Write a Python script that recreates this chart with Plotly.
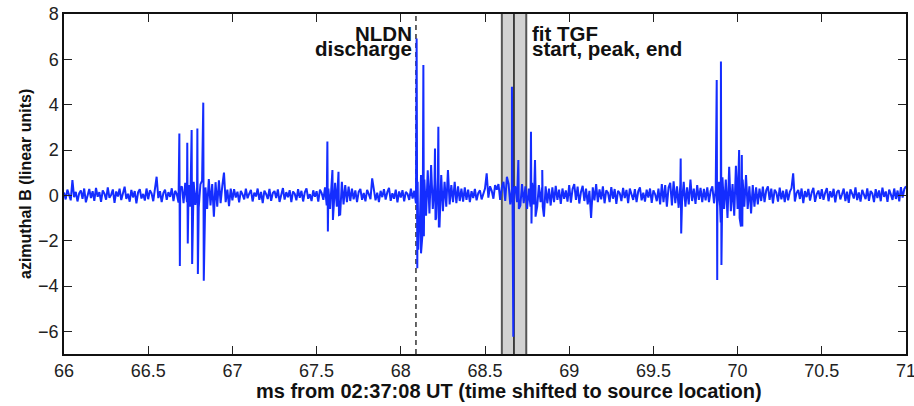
import numpy as np
import plotly.graph_objects as go

# Background record, 0.01 ms samples, one list per half millisecond
base_66_0 = [0.12, -0.18, 0.25, 0.05, -0.22, 0.67, -0.08, 0.15, -0.27, 0.09,
             0.21, -0.15, 0.3, -0.31, 0.04, 0.28, -0.12, 0.18, -0.24, 0.33,
             -0.06, 0.14, -0.29, 0.22, 0.08, -0.19, 0.35, -0.11, 0.02, 0.26,
             -0.33, 0.17, -0.05, 0.29, -0.21, 0.11, 0.38, -0.16, 0.07, -0.28,
             0.24, -0.09, 0.19, -0.35, 0.13, 0.27, -0.14, 0.06, -0.23, 0.3]
base_66_5 = [-0.17, 0.22, 0.09, -0.26, 0.33, 0.82, -0.12, 0.18, -0.3, 0.1,
             0.25, -0.2, 0.14, -0.07, 0.31, -0.25, 0.2, 0.05, -0.32, 0.28,
             0.4, -0.35, 0.55, -0.3, 0.45, -0.5, 0.38, 0.6, -0.42, 0.3,
             -0.55, 0.48, 0.65, -0.4, 0.35, -0.6, 0.72, -0.45, 0.5, -0.94,
             0.58, -0.5, 0.66, -0.35, 0.42, 1.0, -0.3, 0.25, -0.48, 0.3]
base_67_0 = [-0.22, 0.27, -0.1, 0.16, -0.31, 0.2, 0.04, -0.18, 0.29, -0.13,
             0.08, 0.24, -0.27, 0.12, -0.05, 0.3, -0.2, 0.15, -0.34, 0.21,
             0.06, -0.16, 0.28, -0.24, 0.1, 0.19, -0.12, 0.26, -0.29, 0.03,
             0.32, -0.19, 0.14, -0.08, 0.23, -0.3, 0.17, 0.07, -0.22, 0.27,
             -0.11, 0.2, -0.27, 0.13, 0.31, -0.15, 0.05, -0.25, 0.22, -0.06]
base_67_5 = [0.18, -0.28, 0.25, 0.1, -0.2, 0.35, -0.45, 0.3, -0.6, 0.5,
             -0.7, 0.55, -0.5, 0.8, -0.85, 0.6, -0.4, 0.45, -0.3, 0.38,
             -0.25, 0.3, -0.18, 0.22, -0.3, 0.15, 0.28, -0.2, 0.1, -0.26,
             0.24, 0.05, -0.17, 0.75, 0.3, -0.22, 0.12, -0.3, 0.2, -0.08,
             0.27, -0.19, 0.14, 0.33, -0.24, 0.09, -0.15, 0.25, -0.31, 0.17]
base_68_0 = [-0.1, 0.23, -0.26, 0.15, 0.06, -0.2, 0.29, -0.14, 0.2, -0.35,
             0.6, -1.2, 0.9, -1.6, 0.7, -0.9, 1.1, -0.8, 1.34, -0.6,
             0.5, -1.0, 0.8, -1.38, 0.9, -0.7, 0.6, -0.5, 1.12, -0.4,
             0.45, -0.3, 0.6, -0.35, 0.4, -0.25, 0.3, -0.28, 0.35, -0.2,
             0.25, -0.3, 0.18, -0.12, 0.28, -0.22, 0.1, 0.22, -0.18, 0.12]
base_68_5 = [0.3, 0.97, -0.1, 0.4, 0.2, -0.15, 0.45, 0.25, 0.5, -0.2,
             0.35, 0.6, -0.25, 0.82, 0.5, -0.4, 0.3, -0.5, 0.4, -0.3,
             0.6, -0.45, 0.5, -0.35, 0.4, -0.6, 0.3, -0.5, 0.55, -0.4,
             0.35, -0.5, 0.45, -0.3, 0.4, -0.94, 0.4, -0.35, 0.3, -0.45,
             0.35, -0.3, 0.42, -0.2, 0.25, -0.38, 0.3, -0.15, 0.22, -0.28]
base_69_0 = [0.45, -0.32, 0.28, 0.5, -0.2, 0.38, -0.36, 0.15, 0.42, -0.25,
             0.3, -0.4, 0.2, -1.0, 0.35, -0.22, 0.5, -0.3, 0.26, -0.18,
             0.4, -0.35, 0.22, 0.12, -0.3, 0.36, -0.15, 0.28, -0.38, 0.2,
             0.1, -0.25, 0.33, -0.12, 0.24, -0.34, 0.3, 0.05, -0.2, 0.27,
             -0.3, 0.18, 0.35, -0.22, 0.12, -0.28, 0.25, -0.1, 0.3, -0.33]
base_69_5 = [0.22, 0.05, -0.26, 0.3, -0.4, 0.5, -0.3, 0.45, -0.5, 0.35,
             0.55, -0.45, 0.62, -0.35, 0.4, -0.55, 0.48, -0.3, 0.6, -0.5,
             0.35, -0.4, 0.7, -0.25, 0.3, -0.38, 0.45, -0.2, 0.33, -0.3,
             0.28, -0.22, 0.35, -0.3, 0.2, 0.4, -0.35, 0.25, -0.5, 0.6,
             -1.2, 0.8, -0.6, 0.7, -1.0, 1.26, -0.7, 0.5, -0.9, 1.3]
base_70_0 = [-0.6, 0.8, -1.38, 0.7, -0.5, 0.9, -0.6, 0.4, -0.8, 0.45,
             -0.5, 0.35, -0.4, 0.3, -0.25, 0.38, -0.3, 0.22, 0.4, -0.2,
             0.3, -0.35, 0.25, 0.12, -0.28, 0.34, -0.18, 0.2, -0.3, 0.26,
             -0.22, 0.15, 0.31, 0.97, -0.27, 0.1, 0.24, -0.16, 0.3, -0.34,
             0.19, -0.08, 0.28, -0.23, 0.12, 0.33, -0.29, 0.06, 0.21, -0.15]
base_70_5 = [0.27, -0.2, 0.11, 0.32, -0.26, 0.18, -0.09, 0.29, -0.31, 0.14,
             0.23, -0.18, 0.05, 0.3, -0.25, 0.16, -0.33, 0.26, 0.08, -0.14,
             0.35, -0.21, 0.13, -0.28, 0.24, 0.02, -0.17, 0.31, -0.24, 0.19,
             0.09, -0.3, 0.27, -0.12, 0.22, -0.26, 0.34, -0.07, 0.17, -0.29,
             0.25, 0.04, -0.2, 0.3, -0.16, 0.21, -0.27, 0.36, -0.1, 0.28,
             0.4]
segment_starts = [66.0, 66.5, 67.0, 67.5, 68.0, 68.5, 69.0, 69.5, 70.0, 70.5]
segments = [base_66_0, base_66_5, base_67_0, base_67_5, base_68_0,
            base_68_5, base_69_0, base_69_5, base_70_0, base_70_5]
sample_step = 0.01

# Sferic pulses (ms, field value)
pulse_t = [66.685, 66.688, 66.732, 66.735, 66.758, 66.761, 66.792, 66.795,
           66.827, 66.830,
           67.564, 67.567, 67.594, 67.597, 67.630, 67.633,
           68.094, 68.098, 68.104, 68.112, 68.120, 68.134, 68.137,
           68.203, 68.206, 68.223, 68.226,
           68.660, 68.663, 68.666, 68.668, 68.672,
           68.698, 68.701, 68.773, 68.776, 68.797, 68.800, 68.840, 68.843,
           69.662, 69.665, 69.876, 69.879, 69.901, 69.904,
           70.009, 70.012, 70.025, 70.028]
pulse_v = [2.73, -3.12, 2.32, -2.12, 2.88, -3.03, 2.95, -3.47,
           4.09, -3.77,
           2.37, -1.6, 1.12, -1.09, 1.04, -0.87,
           6.92, -3.22, -2.4, -1.6, -2.56, 5.75, -1.8,
           2.07, -1.09, 3.03, -1.38,
           4.79, -3.5, 0.5, -6.24, 0.3,
           1.56, -0.6, 2.81, -1.24, 1.56, -0.94, 1.12, -0.5,
           1.63, -1.68, 5.09, -3.74, 5.9, -3.07,
           2.0, -1.0, 1.78, -1.38]

# NLDN discharge time and fitted TGF start / peak / end
nldn_time = 68.09
tgf_start, tgf_peak, tgf_end = 68.600, 68.672, 68.745

x_ticks = [66, 66.5, 67, 67.5, 68, 68.5, 69, 69.5, 70, 70.5, 71]
x_tick_text = ["66", "66.5", "67", "67.5", "68", "68.5", "69", "69.5", "70", "70.5", "71"]
y_ticks = [-6, -4, -2, 0, 2, 4, 6, 8]

# Assemble the record on a common time axis
t_parts, v_parts = [], []
for start, vals in zip(segment_starts, segments):
    t_parts.append(start + np.arange(len(vals)) * sample_step)
    v_parts.append(np.asarray(vals, dtype=float))
t_all = np.concatenate(t_parts + [np.asarray(pulse_t)])
v_all = np.concatenate(v_parts + [np.asarray(pulse_v)])
order = np.argsort(t_all, kind="stable")
t_all, v_all = t_all[order], v_all[order]

fig = go.Figure()
fig.add_trace(go.Scatter(
    x=t_all, y=v_all, mode="lines",
    line=dict(color="rgb(20,45,255)", width=2),
    hoverinfo="skip", showlegend=False,
))

y_lo, y_hi = -7, 8
shapes = [
    dict(type="rect", xref="x", yref="y", x0=tgf_start, x1=tgf_end, y0=y_lo, y1=y_hi,
         fillcolor="#d2d2d2", line=dict(width=0), layer="below"),
    dict(type="line", xref="x", yref="y", x0=tgf_start, x1=tgf_start, y0=y_lo, y1=y_hi,
         line=dict(color="#555555", width=2), layer="below"),
    dict(type="line", xref="x", yref="y", x0=tgf_end, x1=tgf_end, y0=y_lo, y1=y_hi,
         line=dict(color="#555555", width=2), layer="below"),
    dict(type="line", xref="x", yref="y", x0=tgf_peak, x1=tgf_peak, y0=y_lo, y1=y_hi,
         line=dict(color="#111111", width=1.5), layer="below"),
    dict(type="line", xref="x", yref="y", x0=nldn_time, x1=nldn_time, y0=y_lo, y1=y_hi,
         line=dict(color="#333333", width=1.5, dash="5px,4px"), layer="below"),
]

FONT = "Liberation Sans, Arial, sans-serif"


def px_x(p):
    # horizontal pixel -> paper fraction (plot area spans 64..906)
    return (p - 64) / 842


def px_y(p):
    # vertical pixel -> paper fraction (plot area spans 14..354)
    return (354 - p) / 340


label_font = dict(family=FONT, size=20.5, color="#111111")
ann = []
for text, x, xa, ypix in [("<b>NLDN</b>", 68.074, "right", 33),
                          ("<b>discharge</b>", 68.074, "right", 49),
                          ("<b>fit TGF</b>", 68.775, "left", 33),
                          ("<b>start, peak, end</b>", 68.775, "left", 49)]:
    ann.append(dict(text=text, x=x, xref="x", y=px_y(ypix), yref="paper",
                    xanchor=xa, yanchor="middle", showarrow=False, font=label_font,
                    borderpad=0))

# axis titles
ann.append(dict(text="<b>ms from 02:37:08 UT (time shifted to source location)</b>",
                x=px_x(509), xref="paper", y=px_y(391), yref="paper",
                xanchor="center", yanchor="middle", showarrow=False,
                font=dict(family=FONT, size=20, color="#111111")))
ann.append(dict(text="<b>azimuthal B (linear units)</b>",
                x=px_x(25), xref="paper", y=px_y(184), yref="paper",
                xanchor="center", yanchor="middle", textangle=-90, showarrow=False,
                font=dict(family=FONT, size=16, color="#111111")))

tick_font = dict(family=FONT, size=18, color="#222222")
fig.update_layout(
    width=914, height=406,
    margin=dict(l=64, r=8, t=14, b=52, autoexpand=False),
    paper_bgcolor="white", plot_bgcolor="white",
    shapes=shapes, annotations=ann,
    xaxis=dict(
        range=[66, 71], tickvals=x_ticks, ticktext=x_tick_text,
        showgrid=False, zeroline=False, showline=True, mirror="ticks",
        linecolor="#111111", linewidth=1.5, ticks="inside", ticklen=8,
        tickwidth=1.2, tickcolor="#222222", tickfont=tick_font,
        ticklabeloverflow="allow", automargin=False,
    ),
    yaxis=dict(
        range=[y_lo, y_hi], tickvals=y_ticks,
        showgrid=False, zeroline=False, showline=True, mirror="ticks",
        linecolor="#111111", linewidth=1.5, ticks="inside", ticklen=8,
        tickwidth=1.2, tickcolor="#222222", tickfont=tick_font,
        automargin=False,
    ),
)

fig.write_html("out.html")
